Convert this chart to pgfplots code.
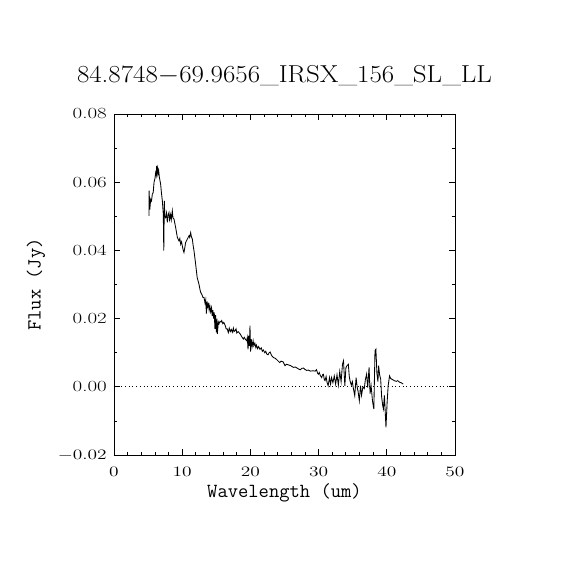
\documentclass[border=0pt]{standalone}
\usepackage{pgfplots}
\pgfplotsset{compat=1.18}
\begin{document}
\begin{tikzpicture}
\begin{axis}[
  at={(0,0)}, anchor=south west,
  scale only axis, width=341pt, height=341pt,
  xmin=0, xmax=50, ymin=-0.02, ymax=0.08,
  xtick={0,10,20,30,40,50},
  ytick={-0.02,0,0.02,0.04,0.06,0.08},
  yticklabels={$-0.02$,0.00,0.02,0.04,0.06,0.08},
  minor x tick num=4, minor y tick num=1,
  tick align=inside, tickpos=both,
  major tick length=6pt, minor tick length=3pt,
  every tick/.style={black, line width=0.8pt},
  axis line style={line width=0.8pt},
  scaled y ticks=false,
  xticklabel style={font=\fontsize{15.5}{15.5}\selectfont, anchor=base, yshift=-21pt, inner sep=0pt, xscale=1.35},
  yticklabel style={font=\fontsize{15.5}{15.5}\selectfont, anchor=east, xshift=-7pt, inner sep=0pt, xscale=1.35},
  title={84.8748$-$69.9656\_IRSX\_156\_SL\_LL},
  title style={at={(axis description cs:0.5,1.0762)}, anchor=base, font=\fontsize{24.5}{24.5}\selectfont, xscale=1.1, inner sep=0pt},
  xlabel={Wavelength (um)},
  xlabel style={at={(axis description cs:0.5,-0.1232)}, anchor=base, font=\ttfamily\fontsize{20}{20}\selectfont, inner sep=0pt},
  ylabel={Flux (Jy)},
  ylabel style={at={(axis description cs:-0.2287,0.5)}, anchor=center, font=\ttfamily\fontsize{20}{20}\selectfont, inner sep=0pt},
]
\addplot[black, line width=0.6pt, dash pattern=on 0.9pt off 2.8pt, forget plot] coordinates {(0,0) (50,0)};
\addplot[black, line width=0.85pt, mark=none] table {
x y
5.13 0.0501
5.15 0.0575
5.25 0.0520
5.38 0.0550
5.5 0.0545
5.62 0.0565
5.75 0.0570
5.87 0.0600
6.0 0.0610
6.11 0.0628
6.2 0.0620
6.25 0.0648
6.32 0.0630
6.4 0.0640
6.45 0.0624
6.55 0.0634
6.65 0.0615
6.84 0.0594
6.95 0.0570
7.09 0.0545
7.23 0.0506
7.30 0.0399
7.38 0.0545
7.45 0.0500
7.57 0.0496
7.7 0.0510
7.82 0.0482
7.95 0.0505
8.06 0.0511
8.15 0.0490
8.3 0.0505
8.4 0.0490
8.55 0.0516
8.65 0.0495
8.8 0.0492
9.04 0.0467
9.29 0.0438
9.53 0.0428
9.65 0.0435
9.78 0.0418
9.9 0.0425
10.02 0.0413
10.15 0.0400
10.26 0.0394
10.4 0.0410
10.5 0.0423
10.75 0.0433
11.0 0.0443
11.1 0.0438
11.24 0.0452
11.35 0.0440
11.49 0.0433
11.6 0.0415
11.73 0.0399
11.97 0.0360
12.2 0.0320
12.46 0.0301
12.6 0.0286
12.71 0.0277
12.9 0.0270
13.05 0.0262
13.2 0.0262
13.35 0.0245
13.45 0.0255
13.55 0.0215
13.65 0.0250
13.75 0.0235
13.85 0.0242
13.95 0.0225
14.05 0.0238
14.17 0.0220
14.3 0.0232
14.4 0.0208
14.5 0.0225
14.6 0.0200
14.7 0.0218
14.8 0.0170
14.9 0.0210
15.0 0.0160
15.1 0.0200
15.15 0.0155
15.3 0.0190
15.4 0.0185
15.55 0.0192
15.7 0.0190
15.8 0.0194
15.95 0.0185
16.1 0.0189
16.3 0.0180
16.45 0.0170
16.6 0.0170
16.76 0.0159
16.9 0.0172
17.05 0.0162
17.2 0.0168
17.35 0.0160
17.5 0.0172
17.6 0.0162
17.74 0.0164
17.9 0.0170
18.0 0.0158
18.2 0.0162
18.5 0.0155
18.7 0.0148
18.96 0.0140
19.1 0.0145
19.3 0.0138
19.45 0.0135
19.55 0.0145
19.65 0.0110
19.75 0.0150
19.85 0.0120
19.94 0.0179
20.02 0.0103
20.12 0.0140
20.25 0.0118
20.4 0.0135
20.5 0.0120
20.65 0.0128
20.8 0.0115
20.9 0.0122
21.05 0.0112
21.2 0.0118
21.4 0.0110
21.6 0.0114
21.75 0.0104
21.9 0.0108
22.1 0.0100
22.25 0.0104
22.4 0.0096
22.6 0.0094
22.75 0.0100
22.9 0.0102
23.1 0.0092
23.36 0.0086
23.6 0.0084
23.85 0.0080
24.0 0.0077
24.3 0.0071
24.5 0.0075
24.8 0.0073
25.07 0.0062
25.3 0.0066
25.6 0.0064
25.9 0.0062
26.3 0.0057
26.6 0.0058
27.0 0.0053
27.3 0.0050
27.55 0.0054
27.8 0.0055
28.0 0.0051
28.25 0.0048
28.5 0.0049
28.8 0.0046
29.2 0.0047
29.5 0.0046
29.7 0.0050
29.85 0.0040
29.96 0.0037
30.1 0.0042
30.25 0.0033
30.45 0.0027
30.6 0.0036
30.7 0.0037
30.85 0.0020
30.95 0.0018
31.1 0.0030
31.25 0.0012
31.4 0.0003
31.6 0.0027
31.75 0.0008
31.9 0.0027
32.1 0.0012
32.3 0.0032
32.5 0.0008
32.7 0.0035
32.9 0.0005
33.1 0.0045
33.3 0.0015
33.5 0.0066
33.65 0.0076
33.85 0.0003
34.0 0.0055
34.1 0.0060
34.36 0.0066
34.5 0.0030
34.6 0.0018
34.8 0.0005
34.95 0.0015
35.1 -0.0005
35.3 -0.0026
35.5 0.0027
35.65 0.0000
35.8 -0.0015
35.97 -0.0041
36.15 0.0003
36.3 -0.0025
36.5 0.0000
36.7 -0.0005
36.85 0.0020
37.04 0.0037
37.2 -0.0002
37.4 0.0057
37.55 -0.0020
37.7 0.0003
37.9 -0.0041
38.1 -0.0065
38.27 0.0106
38.4 0.0110
38.55 0.0040
38.7 0.0015
38.8 0.0062
38.95 0.0035
39.1 0.0023
39.25 -0.0031
39.4 -0.0055
39.5 -0.0065
39.65 -0.0025
39.88 -0.0119
40.05 -0.0045
40.2 0.0003
40.4 0.0032
40.55 0.0025
40.75 0.0022
40.95 0.0020
41.1 0.0018
41.4 0.0016
41.6 0.0018
41.9 0.0013
42.1 0.0012
42.4 0.0008
};
\end{axis}
\pgfresetboundingbox
\path (-114pt,-115pt) rectangle (456pt,455pt);
\end{tikzpicture}
\end{document}
